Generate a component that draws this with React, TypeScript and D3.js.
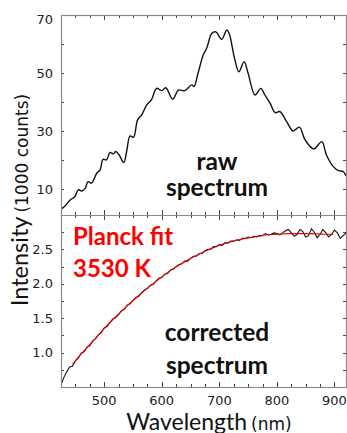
import React from 'react';
import * as d3 from 'd3';

// ---------- data ----------
const rawWl = [425, 432, 441, 449, 455, 461, 467, 472, 478, 487, 493, 498, 504, 510, 516, 520, 526, 534, 539, 545, 551, 558, 565, 574, 582, 591, 600, 607, 619, 629, 640, 652, 656, 663, 672, 678, 687, 694, 704, 713, 717, 727, 734, 743, 750, 762, 772, 779, 788, 797, 805, 817, 828, 839, 849, 864, 878, 886, 898, 907, 915, 920];
const rawCounts = [3.0, 4.1, 6.2, 7.3, 9.7, 9.3, 10.2, 12.5, 12.0, 15.4, 16.6, 20.2, 20.0, 22.6, 22.1, 22.9, 21.7, 19.1, 22.9, 28.3, 27.8, 33.8, 35.5, 39.0, 40.7, 44.7, 43.9, 44.9, 41.0, 44.1, 43.9, 45.9, 45.3, 49.9, 56.2, 58.5, 63.7, 64.2, 61.6, 64.8, 63.7, 54.5, 50.4, 53.9, 49.9, 42.4, 44.7, 42.4, 39.6, 36.3, 36.7, 33.2, 30.0, 31.3, 26.9, 23.8, 26.3, 21.7, 17.7, 16.3, 16.0, 14.5];

const corrWl = d3.range(425, 921, 5);
const corrValues = [
  0.53, 0.64, 0.72, 0.79, 0.80, 0.88, 0.92, 0.99, 1.01, 1.08, 1.10, 1.17, 1.20, 1.26, 1.29,
  1.36, 1.38, 1.44, 1.49, 1.51, 1.55, 1.61, 1.63, 1.69, 1.71, 1.76, 1.80, 1.82, 1.87, 1.91, 1.93, 1.98, 1.99, 2.04, 2.08,
  2.09, 2.14, 2.15, 2.20, 2.21, 2.25, 2.28, 2.29, 2.33, 2.33, 2.37, 2.40, 2.40, 2.44, 2.44, 2.48, 2.50, 2.50, 2.54, 2.54,
  2.57, 2.56, 2.60, 2.59, 2.62, 2.62, 2.64, 2.63, 2.66, 2.66, 2.68, 2.67, 2.69, 2.68, 2.70, 2.70, 2.73, 2.71, 2.72, 2.74,
  2.73, 2.71, 2.74, 2.77, 2.79, 2.74, 2.69, 2.72, 2.79, 2.76, 2.68, 2.70, 2.80, 2.75, 2.67, 2.72, 2.79, 2.74, 2.68, 2.72,
  2.78, 2.74, 2.66, 2.70, 2.74,
];

const fitWl = [445, 460, 480, 500, 520, 540, 560, 580, 600, 620, 640, 660, 680, 700, 720, 740, 760, 780, 800, 820, 840, 860, 880, 898];
const fitValues = [0.83, 0.98, 1.16, 1.35, 1.52, 1.68, 1.83, 1.97, 2.10, 2.22, 2.32, 2.41, 2.49, 2.56, 2.61, 2.65, 2.68, 2.71, 2.72, 2.73, 2.73, 2.73, 2.72, 2.72];

const xTicks = [450, 475, 500, 525, 550, 575, 600, 625, 650, 675, 700, 725, 750, 775, 800, 825, 850, 875, 900];
const xTickLabels = [500, 600, 700, 800, 900];
const topYTicks = [10, 20, 30, 40, 50, 60];
const topYLabels = [10, 30, 50, 70];
const botYTicks = [0.75, 1.0, 1.25, 1.5, 1.75, 2.0, 2.25, 2.5, 2.75];
const botYLabels = [1.0, 1.5, 2.0, 2.5];

export default function App() {
  const L = 61, R = 346, T = 15, M = 215, B = 387;
  const x = d3.scaleLinear().domain([425, 920]).range([L, R]);
  const yTop = d3.scaleLinear().domain([1, 70]).range([M, T]);
  const yBot = d3.scaleLinear().domain([0.5, 3.0]).range([B, M]);

  const rawPath = d3.line<number>()
    .x((_, i) => x(rawWl[i]))
    .y((d) => yTop(d))
    .curve(d3.curveCatmullRom.alpha(0.5))(rawCounts) || '';
  const corrPath = d3.line<number>()
    .x((_, i) => x(corrWl[i]))
    .y((d) => yBot(d))(corrValues) || '';
  const fitPath = d3.line<number>()
    .x((_, i) => x(fitWl[i]))
    .y((d) => yBot(d))
    .curve(d3.curveMonotoneX)(fitValues) || '';

  const frame = '#8a8a8a';
  const tickC = '#444';
  const tickFont = 'DejaVu Sans, sans-serif';
  const bigFont = 'Lato, sans-serif';

  const xt = (v: number) => (v % 100 === 0 ? 5 : 3);

  return (
    <svg width={347} height={433} style={{ position: 'absolute', left: 0, top: 0, background: '#fff' }}>
      <defs>
        <clipPath id="cTop"><rect x={L} y={T} width={R - L} height={M - T} /></clipPath>
        <clipPath id="cBot"><rect x={L} y={M} width={R - L} height={B - M} /></clipPath>
      </defs>

      {/* ticks */}
      <g stroke={tickC} strokeWidth={1}>
        {xTicks.map((v) => {
          const px = Math.round(x(v)) + 0.5;
          const l = xt(v);
          return (
            <g key={'xt' + v}>
              <line x1={px} x2={px} y1={T} y2={T + l} />
              <line x1={px} x2={px} y1={M} y2={M - l} />
              <line x1={px} x2={px} y1={M} y2={M + l} />
              <line x1={px} x2={px} y1={B} y2={B - l} />
            </g>
          );
        })}
        {topYTicks.map((v) => {
          const py = Math.round(yTop(v)) + 0.5;
          return (
            <g key={'yt' + v}>
              <line x1={L} x2={L + 3} y1={py} y2={py} />
              <line x1={R} x2={R - 3} y1={py} y2={py} />
            </g>
          );
        })}
        {botYTicks.map((v) => {
          const py = Math.round(yBot(v)) + 0.5;
          return (
            <g key={'yb' + v}>
              <line x1={L} x2={L + 3} y1={py} y2={py} />
              <line x1={R} x2={R - 3} y1={py} y2={py} />
            </g>
          );
        })}
      </g>

      {/* data */}
      <path d={rawPath} fill="none" stroke="#111" strokeWidth={1.4} clipPath="url(#cTop)" />
      <path d={corrPath} fill="none" stroke="#111" strokeWidth={1.1} clipPath="url(#cBot)" />
      <path d={fitPath} fill="none" stroke="#ee0000" strokeWidth={1.1} clipPath="url(#cBot)" />

      {/* frame */}
      <rect x={L + 0.5} y={T + 0.5} width={R - L} height={B - T} fill="none" stroke={frame} strokeWidth={1.2} />
      <line x1={L} x2={R + 1} y1={M + 0.5} y2={M + 0.5} stroke={frame} strokeWidth={1.2} />

      {/* tick labels */}
      <g fontFamily={tickFont} fontSize={13} fill="#222">
        {xTickLabels.map((v) => (
          <text key={'xl' + v} x={x(v)} y={405} textAnchor="middle">{v}</text>
        ))}
        {topYLabels.map((v) => (
          <text key={'tl' + v} x={53} y={Math.max(yTop(v), 19)} dy="0.36em" textAnchor="end">{v}</text>
        ))}
        {botYLabels.map((v) => (
          <text key={'bl' + v} x={53} y={yBot(v)} dy="0.36em" textAnchor="end">{d3.format('.1f')(v)}</text>
        ))}
      </g>

      {/* annotations */}
      <g fontFamily={bigFont} fontWeight={700} fontSize={24.5} fill="#111" textAnchor="middle">
        <text x={217} y={170}>raw</text>
        <text x={217} y={196}>spectrum</text>
        <text x={217} y={341}>corrected</text>
        <text x={217} y={374}>spectrum</text>
      </g>
      <g fontFamily={bigFont} fontWeight={700} fontSize={24} fill="#ff0000">
        <text x={73} y={245}>Planck fit</text>
        <text x={73} y={277}>3530 K</text>
      </g>

      {/* axis titles */}
      <text x={209} y={430} textAnchor="middle" fill="#111">
        <tspan fontFamily={bigFont} fontSize={23}>Wavelength</tspan>
        <tspan fontFamily={tickFont} fontSize={17} dx={4}>(nm)</tspan>
      </text>
      <text transform="translate(28,200) rotate(-90)" textAnchor="middle" fill="#111">
        <tspan fontFamily={bigFont} fontSize={23.5}>Intensity</tspan>
        <tspan fontFamily={tickFont} fontSize={17} dx={4}>(1000 counts)</tspan>
      </text>
    </svg>
  );
}
